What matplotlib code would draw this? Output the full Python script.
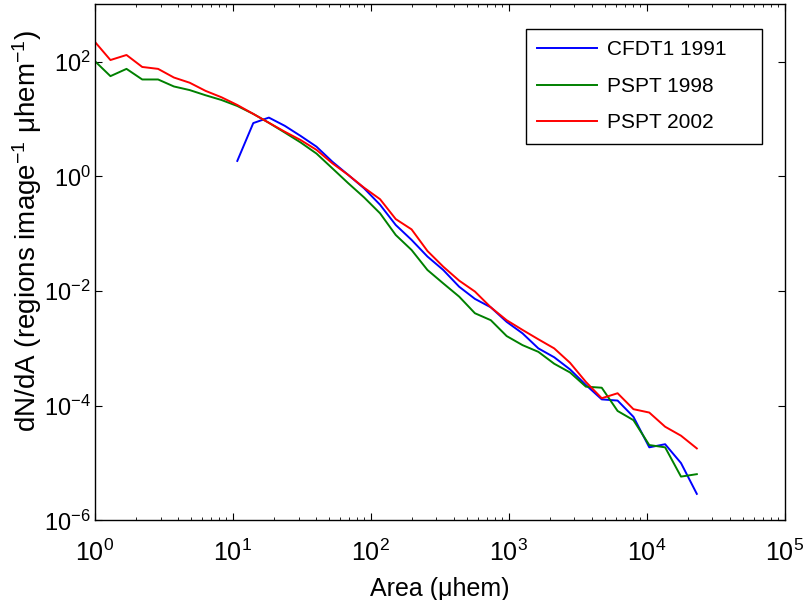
"""Size distribution dN/dA of magnetic regions for three data sets."""

import matplotlib
matplotlib.use("Agg")
import matplotlib.pyplot as plt
from matplotlib.ticker import LogLocator, NullLocator

plt.rcParams["font.family"] = ["Liberation Sans", "DejaVu Sans"]
plt.rcParams["mathtext.default"] = "regular"

# bin centres (uhem)
area = [1.0, 1.30, 1.70, 2.21, 2.88, 3.75, 4.88, 6.36, 8.29, 10.8,
        14.1, 18.3, 23.9, 31.1, 40.5, 52.8, 68.8, 89.6, 117, 152,
        198, 258, 336, 438, 570, 743, 968, 1261, 1643, 2140,
        2788, 3632, 4732, 6165, 8032, 10460, 13630, 17760, 23130]

# CFDT1 1991 starts at the 10th bin
area_cfdt = area[9:]
cfdt_1991 = [1.86, 8.5, 10.6, 7.6, 5.07, 3.3, 1.8, 1.06, 0.62, 0.32,
             0.142, 0.078, 0.040, 0.0233, 0.0119, 0.0073, 0.0052, 0.0029, 0.00183, 0.00100,
             0.00070, 0.00043, 0.00023, 0.000129, 0.000123, 6.4e-5, 1.88e-5, 2.13e-5, 1.0e-5, 2.9e-6]

pspt_1998 = [103, 56, 75, 49, 49, 37, 32, 26, 21.5, 16.9,
             12.3, 8.6, 5.8, 3.9, 2.5, 1.38, 0.76, 0.43, 0.227, 0.095,
             0.052, 0.0233, 0.0136, 0.0080, 0.0041, 0.0031, 0.00164, 0.00114, 0.00087, 0.00054,
             0.00038, 0.000215, 0.000206, 8.1e-5, 5.6e-5, 2.06e-5, 1.88e-5, 5.8e-6, 6.4e-6]

pspt_2002 = [224, 107, 131, 81, 75, 53, 43, 31, 24, 17.6,
             12.3, 8.6, 6.0, 4.3, 2.9, 1.69, 1.06, 0.635, 0.40, 0.18,
             0.119, 0.050, 0.0266, 0.0152, 0.0098, 0.0052, 0.0031, 0.0021, 0.00144, 0.00100,
             0.00056, 0.00026, 0.000135, 0.000165, 8.7e-5, 7.6e-5, 4.3e-5, 3.0e-5, 1.8e-5]

fig = plt.figure(figsize=(8.04, 6.0), dpi=100)
ax = fig.add_axes([0.1178, 0.1327, 0.858, 0.86])

ax.loglog(area_cfdt, cfdt_1991, color=(0, 0, 1), lw=1.4, label="CFDT1 1991")
ax.loglog(area, pspt_1998, color=(0, 0.5, 0), lw=1.4, label="PSPT 1998")
ax.loglog(area, pspt_2002, color=(1, 0, 0), lw=1.4, label="PSPT 2002")

ax.set_xlim(1, 1e5)
ax.set_ylim(1e-6, 1e3)
ax.set_yticks([1e-6, 1e-4, 1e-2, 1e0, 1e2])
ax.yaxis.set_minor_locator(NullLocator())
ax.xaxis.set_major_locator(LogLocator(base=10, numticks=10))
ax.xaxis.set_minor_locator(LogLocator(base=10, subs=range(2, 10), numticks=20))

ax.tick_params(which="both", direction="in", top=True, right=True)
ax.tick_params(which="major", length=5, width=0.8)
ax.tick_params(which="minor", length=2.5, width=0.6)
ax.tick_params(axis="x", pad=14, labelsize=18)
ax.tick_params(axis="y", pad=3, labelsize=17)
for sp in ax.spines.values():
    sp.set_linewidth(1.0)

ax.set_xlabel("Area (μhem)", fontsize=18, labelpad=8)
ax.set_ylabel("dN/dA (regions image$^{-1}$ μhem$^{-1}$)", fontsize=20)
ax.yaxis.set_label_coords(-0.074, 0.561)

leg = ax.legend(loc="upper left", bbox_to_anchor=(0.6246, 0.5, 0.3421, 0.4523),
                mode="expand", borderaxespad=0,
                fontsize=15, fancybox=False, framealpha=1, edgecolor="black",
                handlelength=2.9, handletextpad=0.45, labelspacing=0.84, borderpad=0.55)
leg.get_frame().set_linewidth(1.0)

fig.savefig("out.png", dpi=100)
plt.close(fig)
